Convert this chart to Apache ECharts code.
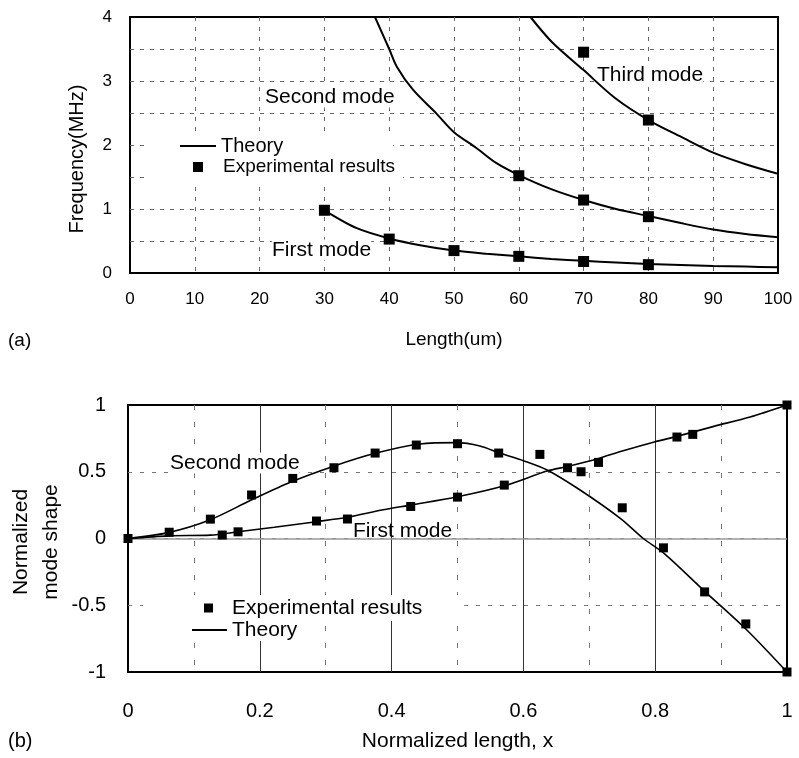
<!DOCTYPE html>
<html>
<head>
<meta charset="utf-8">
<script src="https://cdn.jsdelivr.net/npm/echarts@6/dist/echarts.min.js"></script>
<style>
html,body{margin:0;padding:0;background:#fff;}
#chart{width:799px;height:758px;}
</style>
</head>
<body>
<div id="chart"></div>
<script>
// ---------- (a) Frequency vs length ----------
const firstModeTheoryA = [[30,0.98],[35,0.70],[40,0.54],[45,0.43],[50,0.35],[55,0.30],[60,0.26],[65,0.22],[70,0.19],[75,0.165],[80,0.14],[85,0.125],[90,0.11],[95,0.10],[100,0.09]];
const secondModeTheoryA = [[37.8,4.0],[40,3.5],[41.2,3.22],[43.7,2.86],[47.3,2.49],[50,2.2],[53.5,1.95],[56.5,1.72],[60,1.53],[65,1.31],[70,1.14],[75,1.0],[80,0.89],[85,0.78],[90,0.68],[95,0.61],[100,0.56]];
const thirdModeTheoryA = [[61.8,4.0],[65.1,3.61],[70,3.17],[74.9,2.73],[80,2.39],[85,2.13],[90,1.88],[95,1.70],[100,1.55]];
const firstModeExpA = [[30,0.98],[40,0.53],[50,0.35],[60,0.26],[70,0.18],[80,0.13]];
const secondModeExpA = [[60,1.52],[70,1.14],[80,0.88]];
const thirdModeExpA = [[70,3.45],[80,2.39]];

// ---------- (b) Normalized mode shape ----------
const firstModeTheoryB = [[0,0],[0.0625,0.02],[0.125,0.025],[0.167,0.05],[0.222,0.084],[0.286,0.126],[0.333,0.159],[0.385,0.213],[0.428,0.25],[0.5,0.313],[0.571,0.395],[0.636,0.505],[0.667,0.54],[0.714,0.60],[0.75,0.655],[0.8,0.725],[0.833,0.765],[0.889,0.84],[0.944,0.91],[1,1]];
const secondModeTheoryB = [[0,0],[0.0607,0.044],[0.124,0.139],[0.187,0.288],[0.248,0.425],[0.311,0.54],[0.375,0.638],[0.443,0.708],[0.499,0.718],[0.534,0.693],[0.565,0.638],[0.6,0.583],[0.636,0.513],[0.686,0.363],[0.747,0.151],[0.782,0.0],[0.813,-0.11],[0.876,-0.40],[0.939,-0.685],[1,-1]];
const experimentalB = [[0,0],[0.0625,0.047],[0.125,0.145],[0.143,0.026],[0.167,0.05],[0.1875,0.326],[0.25,0.45],[0.286,0.131],[0.3125,0.53],[0.333,0.146],[0.375,0.64],[0.429,0.24],[0.4375,0.70],[0.5,0.71],[0.5,0.31],[0.5625,0.64],[0.571,0.40],[0.625,0.63],[0.667,0.53],[0.6875,0.50],[0.714,0.57],[0.75,0.23],[0.8125,-0.07],[0.833,0.76],[0.857,0.78],[0.875,-0.40],[0.9375,-0.64],[1,1],[1,-1]];

const FONT = '"Liberation Sans", Arial, Helvetica, sans-serif';
const chart = echarts.init(document.getElementById('chart'), null, {renderer:'canvas'});

function theory(name, data, xi, yi, w){
  return {name:'Theory', type:'line', xAxisIndex:xi, yAxisIndex:yi, data:data, showSymbol:false, symbol:'none',
    smooth:0.3, lineStyle:{color:'#000', width:w}, itemStyle:{color:'#000'}, z:3, silent:true, animation:false};
}
function exp(data, xi, yi, size){
  return {name:'Experimental results', type:'scatter', xAxisIndex:xi, yAxisIndex:yi, data:data, symbol:'rect',
    symbolSize:size, itemStyle:{color:'#000', opacity:1}, z:4, silent:true, animation:false};
}
function modeLabel(text, x, y, size){
  return {type:'text', x:x, y:y, z:1, style:{text:text, font: size+'px '+FONT, fill:'#000',
    verticalAlign:'middle', backgroundColor:'#fff'}};
}

const option = {
  animation:false,
  backgroundColor:'#fff',
  grid:[
    {left:130, top:17, width:648, height:256, show:true, borderColor:'#000', borderWidth:2, backgroundColor:'transparent'},
    {left:128, top:405, width:659, height:267, show:true, borderColor:'#000', borderWidth:2, backgroundColor:'transparent'}
  ],
  xAxis:[
    {gridIndex:0, type:'value', min:0, max:100, interval:10,
      name:'Length(um)', nameLocation:'middle', nameGap:57, nameTextStyle:{fontFamily:FONT, fontSize:19, color:'#000'},
      axisLine:{show:false}, axisTick:{show:false},
      axisLabel:{margin:18, fontFamily:FONT, fontSize:17, color:'#000'},
      splitLine:{show:true, showMinLine:false, showMaxLine:false, lineStyle:{color:'#666', type:[4,6], width:1}}},
    {gridIndex:1, type:'value', min:0, max:1, interval:0.1,
      name:'Normalized length, x', nameLocation:'middle', nameGap:59, nameTextStyle:{fontFamily:FONT, fontSize:21, color:'#000'},
      axisLine:{show:false}, axisTick:{show:false},
      axisLabel:{margin:29, fontFamily:FONT, fontSize:20, color:'#000',
        formatter:function(v){ return (Math.round(v*10)%2===0) ? String(Math.round(v*10)/10) : ''; }},
      splitLine:{show:true, showMinLine:false, showMaxLine:false, lineStyle:{color:'#777', type:[5,12], width:1}}},
    {gridIndex:1, type:'value', min:0, max:1, interval:0.2, position:'bottom',
      axisLine:{show:false}, axisTick:{show:false}, axisLabel:{show:false},
      splitLine:{show:true, showMinLine:false, showMaxLine:false, lineStyle:{color:'#333', type:'solid', width:1}}}
  ],
  yAxis:[
    {gridIndex:0, type:'value', min:0, max:4, interval:0.5,
      axisLine:{show:false}, axisTick:{show:false},
      axisLabel:{margin:18, fontFamily:FONT, fontSize:17, color:'#000',
        formatter:function(v){ return Number.isInteger(v) ? String(v) : ''; }},
      splitLine:{show:true, showMinLine:false, showMaxLine:false, lineStyle:{color:'#666', type:[4,6], width:1}}},
    {gridIndex:1, type:'value', min:-1, max:1, interval:0.5,
      axisLine:{show:false}, axisTick:{show:false},
      axisLabel:{margin:22, fontFamily:FONT, fontSize:20, color:'#000'},
      splitLine:{show:true, showMinLine:false, showMaxLine:false, lineStyle:{color:'#777', type:[4,8], width:1}}}
  ],
  legend:[
    {data:[{name:'Theory', icon:'rect'}], left:147, top:134, padding:[2,110,2,33], itemWidth:36, itemHeight:2,
      textStyle:{fontFamily:FONT, fontSize:20, color:'#000', lineHeight:20}, selectedMode:false,
      backgroundColor:'#fff'},
    {data:[{name:'Experimental results', icon:'rect'}], left:147, top:155, padding:[2,8,8,46], itemWidth:10, itemHeight:10,
      textStyle:{fontFamily:FONT, fontSize:19, color:'#000', lineHeight:20, padding:[0,0,0,15]}, selectedMode:false,
      backgroundColor:'#fff'},
    {data:[{name:'Experimental results', icon:'rect'}], left:143, top:595, padding:[2,42,2,61], itemWidth:9, itemHeight:9,
      textStyle:{fontFamily:FONT, fontSize:21, color:'#000', lineHeight:22, padding:[0,0,0,14]}, selectedMode:false,
      backgroundColor:'#fff'},
    {data:[{name:'Theory', icon:'rect'}], left:192, top:619, padding:0, itemWidth:35, itemHeight:2,
      textStyle:{fontFamily:FONT, fontSize:21, color:'#000', lineHeight:22}, selectedMode:false,
      backgroundColor:'#fff'}
  ],
  graphic:[
    {type:'text', x:77, y:159, rotation:Math.PI/2, z:1,
      style:{text:'Frequency(MHz)', font:'20px '+FONT, fill:'#000', align:'center', verticalAlign:'middle'}},
    {type:'text', x:36, y:542, rotation:Math.PI/2, z:1,
      style:{text:'Normalized\nmode shape', font:'21px '+FONT, fill:'#000', align:'center', verticalAlign:'middle', lineHeight:30}},
    {type:'text', x:8, y:341, z:1, style:{text:'(a)', font:'19px '+FONT, fill:'#000', verticalAlign:'middle'}},
    {type:'text', x:8, y:741, z:1, style:{text:'(b)', font:'20px '+FONT, fill:'#000', verticalAlign:'middle'}},
    modeLabel('Second mode', 265, 97, 21),
    modeLabel('Third mode', 597, 75, 21),
    modeLabel('First mode', 272, 250, 21),
    modeLabel('Second mode', 170, 463, 21),
    {type:'text', x:353, y:531, z:1, style:{text:'First mode', font:'21px '+FONT, fill:'#000', verticalAlign:'middle'}}
  ],
  series:[
    theory('first', firstModeTheoryA, 0, 0, 2),
    theory('second', secondModeTheoryA, 0, 0, 2),
    theory('third', thirdModeTheoryA, 0, 0, 2),
    exp(firstModeExpA, 0, 0, 11),
    exp(secondModeExpA, 0, 0, 11),
    exp(thirdModeExpA, 0, 0, 11),
    Object.assign(theory('firstB', firstModeTheoryB, 1, 1, 1.6), {
      markLine:{silent:true, symbol:'none', label:{show:false}, animation:false, z:1,
        lineStyle:{color:'#999', type:'solid', width:1.5}, data:[{yAxis:0}]}
    }),
    theory('secondB', secondModeTheoryB, 1, 1, 1.6),
    exp(experimentalB, 1, 1, 9)
  ]
};
chart.setOption(option);
</script>
</body>
</html>
